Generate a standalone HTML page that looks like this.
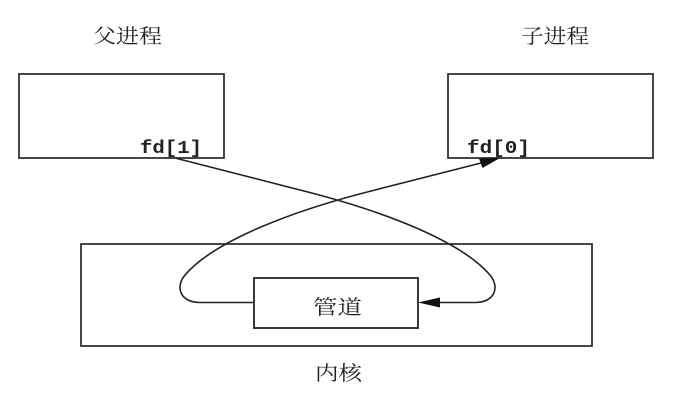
<!DOCTYPE html>
<html>
<head>
<meta charset="utf-8">
<style>
  html, body { margin: 0; padding: 0; background: #fff; }
  body { width: 688px; height: 400px; overflow: hidden; }
  svg { display: block; }
  .cjk { font-family: "Liberation Serif", "Noto Serif CJK SC", "WenQuanYi Zen Hei", serif; font-size: 20px; fill: #222; }
  .mono { font-family: "Liberation Mono", monospace; font-size: 18px; font-weight: bold; fill: #222; }
</style>
</head>
<body>
<svg width="688" height="400" viewBox="0 0 688 400" xmlns="http://www.w3.org/2000/svg">
  <rect x="0" y="0" width="688" height="400" fill="#fff"/>

  <!-- titles -->
  <text class="cjk" x="93" y="43" textLength="69" lengthAdjust="spacingAndGlyphs">父进程</text>
  <text class="cjk" x="521" y="43" textLength="68" lengthAdjust="spacingAndGlyphs">子进程</text>

  <!-- process boxes -->
  <rect x="19" y="74" width="205" height="84" fill="none" stroke="#333" stroke-width="1.8"/>
  <rect x="448" y="74" width="205" height="84" fill="none" stroke="#333" stroke-width="1.8"/>

  <text class="mono" x="140" y="153" textLength="62" lengthAdjust="spacingAndGlyphs">fd[1]</text>
  <text class="mono" x="467" y="153" textLength="63" lengthAdjust="spacingAndGlyphs">fd[0]</text>

  <!-- kernel box -->
  <rect x="81" y="244" width="511" height="102" fill="none" stroke="#333" stroke-width="1.8"/>
  <!-- pipe box -->
  <rect x="254" y="278" width="164" height="50" fill="none" stroke="#222" stroke-width="1.8"/>
  <text class="cjk" x="313" y="314" textLength="49" lengthAdjust="spacingAndGlyphs">管道</text>
  <text class="cjk" x="315" y="380" textLength="47" lengthAdjust="spacingAndGlyphs">内核</text>

  <!-- curve A: fd[1] -> pipe (right side) -->
  <path d="M175,158 L300,190 C380,210 460,240 490,275 C500,287 495,302.5 475,302.5 L440,302.5"
        fill="none" stroke="#222" stroke-width="1.6"/>
  <polygon points="418,302.5 440,297.5 440,307.5" fill="#111"/>

  <!-- curve B: pipe (left side) -> fd[0] -->
  <path d="M254,302.5 L200,302.5 C180,302.5 175,287 185,275 C215,240 295,210 375,190 L481,163"
        fill="none" stroke="#222" stroke-width="1.6"/>
  <polygon points="500,158 479,158.5 482.5,168" fill="#111"/>
</svg>
</body>
</html>
